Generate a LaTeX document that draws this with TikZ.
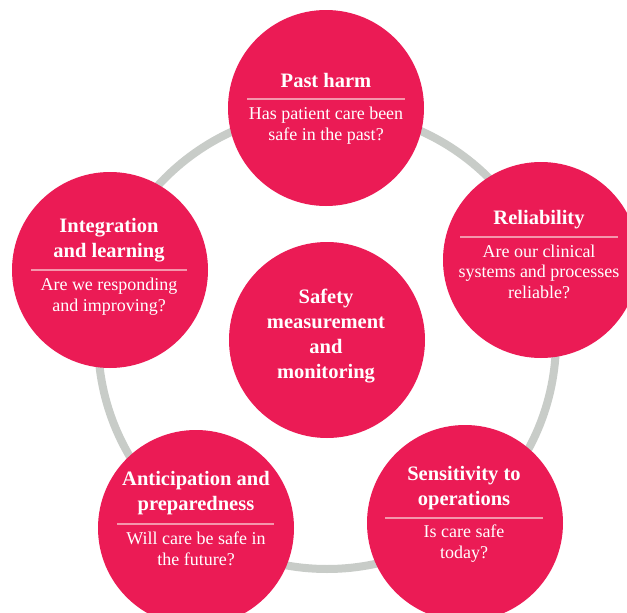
\documentclass[tikz,border=0pt]{standalone}
\usepackage{fontspec}
\setmainfont{Liberation Serif}
\definecolor{crimson}{RGB}{235,27,85}
\definecolor{ringgray}{RGB}{200,204,200}
\definecolor{divpink}{RGB}{244,150,172}
\begin{document}
\begin{tikzpicture}[x=1pt,y=-1pt,
  disc/.style={circle,fill=crimson,inner sep=0pt,minimum size=196pt},
  ttl/.style={anchor=base,align=center,text=white,inner sep=0pt,font=\fontsize{20.5}{25}\selectfont\bfseries},
  sub/.style={anchor=base,align=center,text=white,inner sep=0pt,font=\fontsize{18}{20.5}\selectfont},
  divider/.style={draw=divpink,line width=1.2pt}]
\useasboundingbox (0,0) rectangle (627,613);
\fill[white] (0,0) rectangle (627,613);
% ring
\node[circle,draw=ringgray,line width=8pt,inner sep=0pt,minimum size=458pt] (ring) at (327,340) {};
% discs
\node[disc] (ph) at (326,108) {};
\node[disc] (rel) at (541,260) {};
\node[disc] (int) at (110,270) {};
\node[disc] (ctr) at (327,340) {};
\node[disc] (ant) at (196,528) {};
\node[disc] (sen) at (465,523) {};
% (multi-line nodes are placed by the baseline of their last line)
% Past harm
\node[ttl] (ph-t) at (326,87) {Past harm};
\coordinate (ph-l) at (247,99); \coordinate (ph-r) at (405,99);
\draw[divider] (ph-l) -- (ph-r);
\node[sub] (ph-s) at (326,140) {Has patient care been\\safe in the past?};
% Reliability
\node[ttl] (rel-t) at (539,224) {Reliability};
\coordinate (rel-l) at (460,237); \coordinate (rel-r) at (618,237);
\draw[divider] (rel-l) -- (rel-r);
\node[sub] (rel-s) at (539,298) {Are our clinical\\systems and processes\\reliable?};
% Integration
\node[ttl] (int-t) at (109,257) {Integration\\and learning};
\coordinate (int-l) at (31,270); \coordinate (int-r) at (187,270);
\draw[divider] (int-l) -- (int-r);
\node[sub] (int-s) at (109,311) {Are we responding\\and improving?};
% Centre
\node[ttl] (ctr-t) at (326,378) {Safety\\measurement\\and\\monitoring};
% Anticipation
\node[ttl] (ant-t) at (196,510) {Anticipation and\\preparedness};
\coordinate (ant-l) at (117,524); \coordinate (ant-r) at (274,524);
\draw[divider] (ant-l) -- (ant-r);
\node[sub] (ant-s) at (196,565) {Will care be safe in\\the future?};
% Sensitivity
\node[ttl] (sen-t) at (464,505) {Sensitivity to\\operations};
\coordinate (sen-l) at (385,518); \coordinate (sen-r) at (543,518);
\draw[divider] (sen-l) -- (sen-r);
\node[sub] (sen-s) at (464,558) {Is care safe\\today?};
\end{tikzpicture}
\end{document}
